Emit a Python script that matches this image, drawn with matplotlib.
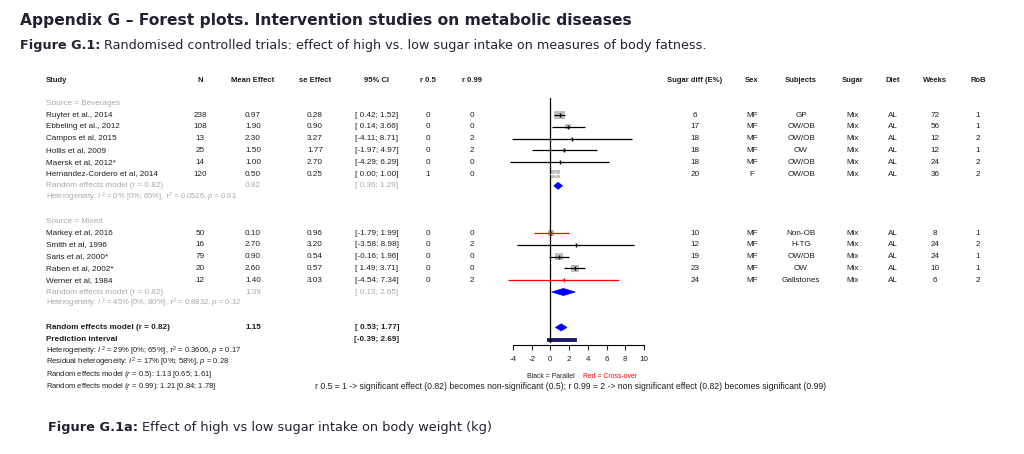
import matplotlib
matplotlib.use('Agg')
import matplotlib.pyplot as plt
import matplotlib.transforms as mtransforms
from matplotlib.patches import Rectangle, Polygon
import numpy as np

plt.rcParams['font.family'] = ['Liberation Sans', 'DejaVu Sans']
plt.rcParams['mathtext.fontset'] = 'custom'
plt.rcParams['mathtext.rm'] = 'Liberation Sans'
plt.rcParams['mathtext.it'] = 'Liberation Sans:italic'
plt.rcParams['mathtext.bf'] = 'Liberation Sans:bold'

# ---------------- data ----------------
studies_bev = ["Ruyter et al., 2014", "Ebbeling et al., 2012", "Campos et al, 2015",
               "Hollis et al, 2009", "Maersk et al, 2012*", "Hernandez-Cordero et al, 2014"]
n_bev = [238, 108, 13, 25, 14, 120]
mean_bev = [0.97, 1.90, 2.30, 1.50, 1.00, 0.50]
se_bev = [0.28, 0.90, 3.27, 1.77, 2.70, 0.25]
lo_bev = [0.42, 0.14, -4.11, -1.97, -4.29, 0.00]
hi_bev = [1.52, 3.66, 8.71, 4.97, 6.29, 1.00]
r05_bev = [0, 0, 0, 0, 0, 1]
r099_bev = [0, 0, 2, 2, 0, 0]
sugardiff_bev = [6, 17, 18, 18, 18, 20]
sex_bev = ["MF", "MF", "MF", "MF", "MF", "F"]
subjects_bev = ["GP", "OW/OB", "OW/OB", "OW", "OW/OB", "OW/OB"]
sugar_bev = ["Mix", "Mix", "Mix", "Mix", "Mix", "Mix"]
diet_bev = ["AL", "AL", "AL", "AL", "AL", "AL"]
weeks_bev = [72, 56, 12, 12, 24, 36]
rob_bev = [1, 1, 2, 1, 2, 2]
design_bev = ["Parallel", "Parallel", "Parallel", "Parallel", "Parallel", "Parallel"]

studies_mix = ["Markey et al, 2016", "Smith et al, 1996", "Saris et al, 2000*",
               "Raben et al, 2002*", "Werner et al, 1984"]
n_mix = [50, 16, 79, 20, 12]
mean_mix = [0.10, 2.70, 0.90, 2.60, 1.40]
se_mix = [0.96, 3.20, 0.54, 0.57, 3.03]
lo_mix = [-1.79, -3.58, -0.16, 1.49, -4.54]
hi_mix = [1.99, 8.98, 1.96, 3.71, 7.34]
r05_mix = [0, 0, 0, 0, 0]
r099_mix = [0, 2, 0, 0, 2]
sugardiff_mix = [10, 12, 19, 23, 24]
sex_mix = ["MF", "MF", "MF", "MF", "MF"]
subjects_mix = ["Non-OB", "H-TG", "OW/OB", "OW", "Gallstones"]
sugar_mix = ["Mix", "Mix", "Mix", "Mix", "Mix"]
diet_mix = ["AL", "AL", "AL", "AL", "AL"]
weeks_mix = [8, 24, 24, 10, 6]
rob_mix = [1, 2, 1, 1, 2]
design_mix = ["Cross-over", "Parallel", "Parallel", "Parallel", "Cross-over"]

re_bev = [0.82, 0.36, 1.29]
re_mix = [1.39, 0.13, 2.65]
re_all = [1.15, 0.53, 1.77]
pred_int = [-0.39, 2.69]
tau2_all = 0.3606

het_bev = r"Heterogeneity: $\mathit{I}^{\,2}$ = 0% [0%; 65%], $\tau^2$ = 0.0526, $\mathit{p}$ = 0.61"
het_mix = r"Heterogeneity: $\mathit{I}^{\,2}$ = 45% [0%; 80%], $\tau^2$ = 0.8832, $\mathit{p}$ = 0.12"
het_all = r"Heterogeneity: $\mathit{I}^{\,2}$ = 29% [0%; 65%], $\tau^2$ = 0.3606, $\mathit{p}$ = 0.17"
het_res = r"Residual heterogeneity: $\mathit{I}^{\,2}$ = 17% [0%; 58%], $\mathit{p}$ = 0.28"
re05_txt = r"Random effects model ($\mathit{r}$ = 0.5): 1.13 [0.65; 1.61]"
re099_txt = r"Random effects model ($\mathit{r}$ = 0.99): 1.21 [0.84; 1.78]"
footnote = ("r 0.5 = 1 -> significant effect (0.82) becomes non-significant (0.5); "
            "r 0.99 = 2 -> non significant effect (0.82) becomes significant (0.99)")

headers = ["N", "Mean Effect", "se Effect", "95% CI", "r 0.5", "r 0.99",
           "Sugar diff (E%)", "Sex", "Subjects", "Sugar", "Diet", "Weeks", "RoB"]
xticks = [-4, -2, 0, 2, 4, 6, 8, 10]

# ---------------- layout ----------------
W, H = 1024, 454
fig = plt.figure(figsize=(W / 100, H / 100), dpi=100)
Y0, DY = 115.0, 11.8


def rowpx(r):
    return Y0 + DY * r


AX_L, AX_R = 513, 644
R_TOP, R_BOT = -4, 19.5
ax = fig.add_axes([AX_L / W, 1 - rowpx(R_BOT) / H, (AX_R - AX_L) / W,
                   (rowpx(R_BOT) - rowpx(R_TOP)) / H])
ax.set_xlim(-4, 10)
ax.set_ylim(R_BOT, R_TOP)
ax.patch.set_alpha(0)
for s in ['top', 'left', 'right']:
    ax.spines[s].set_visible(False)
ax.spines['bottom'].set_linewidth(0.8)
ax.set_yticks([])
ax.set_xticks(xticks)
ax.set_xticklabels([str(t) for t in xticks])
ax.tick_params(axis='x', direction='out', length=3.6, width=0.8, labelsize=5.8,
               pad=4.2, colors='#222222')

px_per_unit = (AX_R - AX_L) / 14.0
trans = mtransforms.blended_transform_factory(fig.transFigure, ax.transData)

TXT = '#1e1e1e'
GREY = '#a9a9a9'
FS = 5.9
FS_SMALL = 5.4
small_texts = []

col_x = {"N": 200, "Mean Effect": 253, "se Effect": 315, "95% CI": 377, "r 0.5": 428,
         "r 0.99": 472, "Sugar diff (E%)": 695, "Sex": 752, "Subjects": 801,
         "Sugar": 853, "Diet": 893, "Weeks": 935, "RoB": 978}
STUDY_X = 46


def T(xpx, r, s, ha='center', fs=FS, color=TXT, weight='normal'):
    t = ax.text(xpx / W, r, s, transform=trans, ha=ha, va='center', fontsize=fs,
                color=color, fontweight=weight, clip_on=False)
    if fs == FS_SMALL:
        small_texts.append(t)
    return t


def ci_str(lo, hi):
    return "[{:5.2f}; {:.2f}]".format(lo, hi)


# header
HR = -2.93
T(STUDY_X, HR, "Study", ha='left', weight='bold', fs=5.5)
for h in headers:
    T(col_x[h], HR, h, weight='bold', fs=5.5)

# zero line
ax.plot([0, 0], [-1.47, 19.25], color='black', lw=0.9, clip_on=False)

het_refs = []


def draw_group(r0, label, studies, n, mean, se, lo, hi, r05, r099, sd, sex, subj,
               sug, diet, weeks, rob, design, re, het):
    T(STUDY_X, r0 - 1, label, ha='left', color=GREY)
    for i in range(len(studies)):
        r = r0 + i
        T(STUDY_X, r, studies[i], ha='left')
        T(col_x["N"], r, str(n[i]))
        T(col_x["Mean Effect"], r, "{:.2f}".format(mean[i]))
        T(col_x["se Effect"], r, "{:.2f}".format(se[i]))
        T(col_x["95% CI"], r, ci_str(lo[i], hi[i]))
        T(col_x["r 0.5"], r, str(r05[i]))
        T(col_x["r 0.99"], r, str(r099[i]))
        T(col_x["Sugar diff (E%)"], r, str(sd[i]))
        T(col_x["Sex"], r, sex[i])
        T(col_x["Subjects"], r, subj[i])
        T(col_x["Sugar"], r, sug[i])
        T(col_x["Diet"], r, diet[i])
        T(col_x["Weeks"], r, str(weeks[i]))
        T(col_x["RoB"], r, str(rob[i]))
        # forest marks
        w = 1.0 / (se[i] ** 2 + tau2_all)
        side = 6.8 * np.sqrt(w)
        bw = side / px_per_unit
        bh = 0.85 * side / DY
        ax.add_patch(Rectangle((mean[i] - bw / 2, r - bh / 2), bw, bh,
                               facecolor='#bebebe', edgecolor='none', clip_on=False))
        c = 'red' if design[i] == "Cross-over" else 'black'
        if (hi[i] - lo[i]) < bw:
            c = 'white'
        ax.plot([lo[i], hi[i]], [r, r], color=c, lw=0.9, solid_capstyle='butt',
                clip_on=False)
        ax.plot([mean[i], mean[i]], [r - 0.17, r + 0.17], color=c, lw=1.0,
                solid_capstyle='butt', clip_on=False)
    rr = r0 + len(studies)
    T(STUDY_X, rr, "Random effects model (r = 0.82)", ha='left', color=GREY)
    T(col_x["Mean Effect"], rr, "{:.2f}".format(re[0]), color=GREY)
    T(col_x["95% CI"], rr, ci_str(re[1], re[2]), color=GREY)
    ax.add_patch(Polygon([[re[1], rr], [re[0], rr - 0.3], [re[2], rr], [re[0], rr + 0.3]],
                         closed=True, facecolor='#0000ff', edgecolor='#0000ff', lw=0.5,
                         clip_on=False))
    het_refs.append(T(STUDY_X, rr + 1, het, ha='left', color=GREY, fs=FS_SMALL))


draw_group(0, "Source = Beverages", studies_bev, n_bev, mean_bev, se_bev, lo_bev, hi_bev,
           r05_bev, r099_bev, sugardiff_bev, sex_bev, subjects_bev, sugar_bev, diet_bev,
           weeks_bev, rob_bev, design_bev, re_bev, het_bev)
draw_group(10, "Source = Mixed", studies_mix, n_mix, mean_mix, se_mix, lo_mix, hi_mix,
           r05_mix, r099_mix, sugardiff_mix, sex_mix, subjects_mix, sugar_mix, diet_mix,
           weeks_mix, rob_mix, design_mix, re_mix, het_mix)

# overall
T(STUDY_X, 18, "Random effects model (r = 0.82)", ha='left', weight='bold')
T(col_x["Mean Effect"], 18, "{:.2f}".format(re_all[0]), weight='bold')
T(col_x["95% CI"], 18, ci_str(re_all[1], re_all[2]), weight='bold')
ax.add_patch(Polygon([[re_all[1], 18], [re_all[0], 17.7], [re_all[2], 18], [re_all[0], 18.3]],
                     closed=True, facecolor='#0000ff', edgecolor='#0000ff', lw=0.5,
                     clip_on=False))
T(STUDY_X, 19, "Prediction interval", ha='left', weight='bold')
T(col_x["95% CI"], 19, ci_str(pred_int[0], pred_int[1]), weight='bold')
ax.add_patch(Rectangle((pred_int[0], 19 - 0.13), pred_int[1] - pred_int[0], 0.26,
                       facecolor='#15157a', edgecolor='#000033', lw=0.5, clip_on=False))
T(STUDY_X, 20, het_all, ha='left', fs=FS_SMALL)
T(STUDY_X, 21, het_res, ha='left', fs=FS_SMALL)
T(STUDY_X, 22, re05_txt, ha='left', fs=FS_SMALL)
T(STUDY_X, 23, re099_txt, ha='left', fs=FS_SMALL)

leg1 = ax.text(575 / W, 22.15, "Black = Parallel", transform=trans, ha='right', va='center',
               fontsize=5.0, color=TXT)
leg2 = ax.text(583 / W, 22.15, "Red = Cross-over", transform=trans, ha='left', va='center',
               fontsize=5.0, color='red')
fn = ax.text(315 / W, 23.0, footnote, transform=trans, ha='left', va='center',
             fontsize=5.0, color=TXT)

# ---------------- fit text widths ----------------
renderer = fig.canvas.get_renderer()


def wpx(t):
    return t.get_window_extent(renderer).width


def fit(t, target):
    for _ in range(2):
        t.set_fontsize(t.get_fontsize() * target / wpx(t))


fit(het_refs[0], 191)
for t in small_texts:
    t.set_fontsize(het_refs[0].get_fontsize())
fit(fn, 511)
fit(leg1, 47)
leg2.set_fontsize(leg1.get_fontsize())

TITLE_C = '#222233'
title = fig.text(20 / W, 1 - 20 / H, "Appendix G \u2013 Forest plots. Intervention studies on metabolic diseases",
                 fontsize=12, fontweight='bold', family='DejaVu Sans', color=TITLE_C,
                 ha='left', va='center')
fit(title, 608)


def two_part(x0, x1, y, bold, regular, size0):
    t1 = fig.text(x0 / W, 1 - y / H, bold, fontsize=size0, fontweight='bold',
                  family='DejaVu Sans', color=TITLE_C, ha='left', va='center')
    t2 = fig.text(x0 / W, 1 - y / H, regular, fontsize=size0, family='DejaVu Sans',
                  color=TITLE_C, ha='left', va='center')
    for _ in range(2):
        s = t1.get_fontsize()
        gap = 0.3 * s * 100 / 72
        total = wpx(t1) + gap + wpx(t2)
        ns = s * (x1 - x0) / total
        t1.set_fontsize(ns)
        t2.set_fontsize(ns)
    gap = 0.3 * t1.get_fontsize() * 100 / 72
    t2.set_x((x0 + wpx(t1) + gap) / W)


two_part(20, 702, 45, "Figure G.1:",
         "Randomised controlled trials: effect of high vs. low sugar intake on measures of body fatness.", 9)
two_part(48, 490, 428, "Figure G.1a:",
         "Effect of high vs low sugar intake on body weight (kg)", 9)

fig.savefig("out.png", dpi=100, facecolor='white')
